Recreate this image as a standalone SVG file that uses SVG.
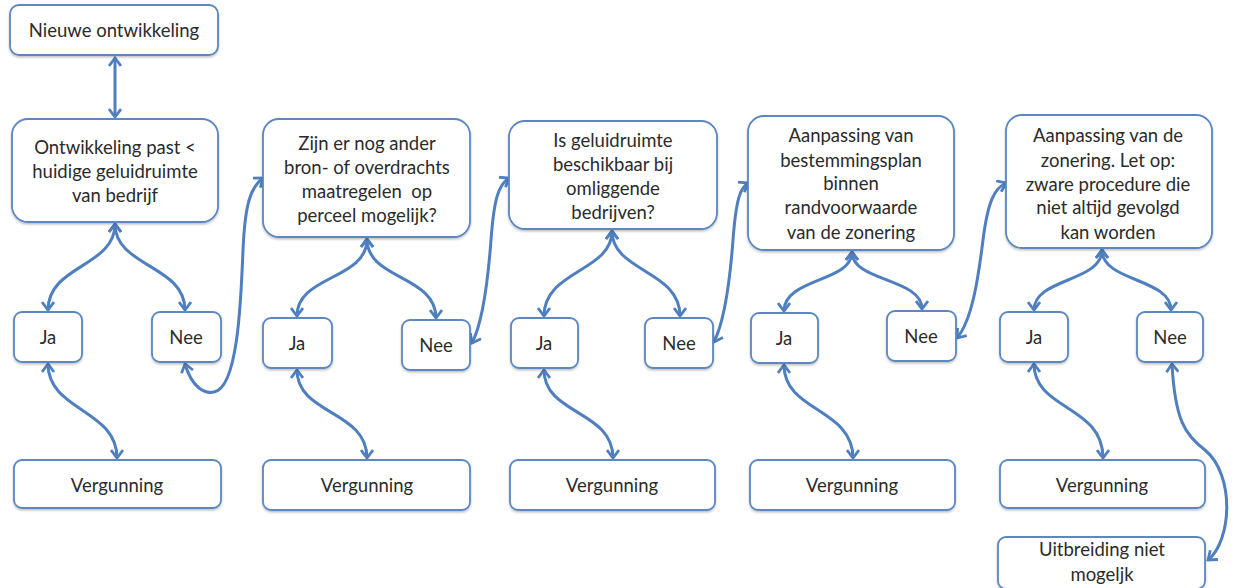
<svg xmlns="http://www.w3.org/2000/svg" width="1234" height="588" viewBox="0 0 1234 588">
<style>
.box{fill:#fff;stroke:#5b87c1;stroke-width:1.8;filter:url(#sh)}
.t{font-family:Lato,"Open Sans","Liberation Sans",sans-serif;font-size:18.5px;fill:#2b2b2b;text-anchor:middle}
.c{fill:none;stroke:#4f7fbf;stroke-width:3;marker-start:url(#ah);marker-end:url(#ah)}
</style>
<defs>
<filter id="sh" x="-10%" y="-10%" width="120%" height="130%">
<feDropShadow dx="0" dy="1.5" stdDeviation="1.2" flood-color="#000" flood-opacity="0.25"/>
</filter>
<marker id="ah" viewBox="0 0 12 14" refX="10" refY="7" markerWidth="12" markerHeight="14" markerUnits="userSpaceOnUse" orient="auto-start-reverse">
<path d="M2,1 L10,7 L2,13" fill="none" stroke="#4f7fbf" stroke-width="2.8" stroke-linejoin="miter"/>
</marker>
</defs>

<g id="connectors">
<path class="c" d="M115,58 L115,117"/>
<path class="c" d="M115,224 C115,267 48,265 48,310"/>
<path class="c" d="M115,224 C115,267 185,265 185,310"/>
<path class="c" d="M48,364 C48,411 117,409 117,458"/>
<path class="c" d="M185,364 C192,388 205,394 214,392 C238,388 241,300 243,250 C245,205 250,188 263,178"/>

<path class="c" d="M367,239 C367,280 297,275 297,316"/>
<path class="c" d="M367,239 C367,280 436,275 436,318"/>
<path class="c" d="M297,370 C297,415 367,410 367,458"/>
<path class="c" d="M472,343 C483,322 488,280 491,240 C494,200 498,185 509,178"/>

<path class="c" d="M612,231 C612,272 544,270 544,316"/>
<path class="c" d="M612,231 C612,272 680,270 680,316"/>
<path class="c" d="M544,370 C544,415 613,410 613,458"/>
<path class="c" d="M714,342 C725,320 730,280 733,240 C736,200 740,188 748,183"/>

<path class="c" d="M852,252 C852,282 784,278 784,311"/>
<path class="c" d="M852,252 C852,282 922,278 922,309"/>
<path class="c" d="M784,365 C784,412 853,408 853,458"/>
<path class="c" d="M957,338 C972,320 978,280 983,240 C988,200 995,188 1006,183"/>

<path class="c" d="M1102,250 C1102,282 1034,278 1034,310"/>
<path class="c" d="M1102,250 C1102,282 1171,278 1171,310"/>
<path class="c" d="M1034,364 C1034,410 1103,405 1103,458"/>
<path class="c" d="M1172,364 C1175,420 1185,435 1205,450 C1235,475 1232,540 1208,560"/>
</g>

<g id="n-nieuwe"><rect class="box" x="10" y="5" width="208" height="50" rx="9"/><text class="t" x="114" y="37">Nieuwe ontwikkeling</text></g>
<g id="n-past"><rect class="box" x="12" y="119" width="206" height="103" rx="16"/>
<text class="t" x="115" y="154">Ontwikkeling past &lt;</text><text class="t" x="115" y="178">huidige geluidruimte</text><text class="t" x="115" y="202">van bedrijf</text></g>
<g id="n-ja1"><rect class="box" x="14" y="312" width="68" height="50" rx="8"/><text class="t" x="48" y="344">Ja</text></g>
<g id="n-nee1"><rect class="box" x="152" y="312" width="69" height="50" rx="8"/><text class="t" x="186" y="344">Nee</text></g>
<g id="n-verg1"><rect class="box" x="14" y="460" width="207" height="48" rx="8"/><text class="t" x="117" y="492">Vergunning</text></g>

<g id="n-maatregelen"><rect class="box" x="263" y="119" width="207" height="118" rx="16"/>
<text class="t" x="367" y="150">Zijn er nog ander</text><text class="t" x="367" y="174">bron- of overdrachts</text><text class="t" x="367" y="198" xml:space="preserve">maatregelen  op</text><text class="t" x="367" y="222">perceel mogelijk?</text></g>
<g id="n-ja2"><rect class="box" x="263" y="318" width="69" height="50" rx="8"/><text class="t" x="297" y="350">Ja</text></g>
<g id="n-nee2"><rect class="box" x="402" y="320" width="68" height="50" rx="8"/><text class="t" x="436" y="352">Nee</text></g>
<g id="n-verg2"><rect class="box" x="263" y="460" width="207" height="50" rx="8"/><text class="t" x="367" y="492">Vergunning</text></g>

<g id="n-omliggend"><rect class="box" x="509" y="121" width="208" height="108" rx="16"/>
<text class="t" x="613" y="147">Is geluidruimte</text><text class="t" x="613" y="171">beschikbaar bij</text><text class="t" x="613" y="195">omliggende</text><text class="t" x="613" y="219">bedrijven?</text></g>
<g id="n-ja3"><rect class="box" x="511" y="318" width="67" height="50" rx="8"/><text class="t" x="544" y="350">Ja</text></g>
<g id="n-nee3"><rect class="box" x="645" y="318" width="68" height="50" rx="8"/><text class="t" x="679" y="350">Nee</text></g>
<g id="n-verg3"><rect class="box" x="510" y="460" width="205" height="50" rx="8"/><text class="t" x="612" y="492">Vergunning</text></g>

<g id="n-bestemming"><rect class="box" x="748" y="116" width="206" height="134" rx="16"/>
<text class="t" x="851" y="142">Aanpassing van</text><text class="t" x="851" y="167">bestemmingsplan</text><text class="t" x="851" y="190">binnen</text><text class="t" x="851" y="214">randvoorwaarde</text><text class="t" x="851" y="239">van de zonering</text></g>
<g id="n-ja4"><rect class="box" x="751" y="313" width="67" height="50" rx="8"/><text class="t" x="784" y="345">Ja</text></g>
<g id="n-nee4"><rect class="box" x="887" y="311" width="69" height="50" rx="8"/><text class="t" x="921" y="343">Nee</text></g>
<g id="n-verg4"><rect class="box" x="750" y="460" width="205" height="50" rx="8"/><text class="t" x="852" y="492">Vergunning</text></g>

<g id="n-zonering"><rect class="box" x="1006" y="115" width="206" height="133" rx="16"/>
<text class="t" x="1108" y="142">Aanpassing van de</text><text class="t" x="1108" y="167">zonering. Let op:</text><text class="t" x="1108" y="191">zware procedure die</text><text class="t" x="1108" y="214">niet altijd gevolgd</text><text class="t" x="1108" y="239">kan worden</text></g>
<g id="n-ja5"><rect class="box" x="1000" y="312" width="68" height="50" rx="8"/><text class="t" x="1034" y="344">Ja</text></g>
<g id="n-nee5"><rect class="box" x="1137" y="312" width="66" height="50" rx="8"/><text class="t" x="1170" y="344">Nee</text></g>
<g id="n-verg5"><rect class="box" x="1000" y="460" width="205" height="48" rx="8"/><text class="t" x="1102" y="492">Vergunning</text></g>
<g id="n-uitbreiding"><rect class="box" x="998" y="537" width="207" height="52" rx="8"/>
<text class="t" x="1102" y="556">Uitbreiding niet</text><text class="t" x="1102" y="581">mogeljk</text></g>
</svg>
